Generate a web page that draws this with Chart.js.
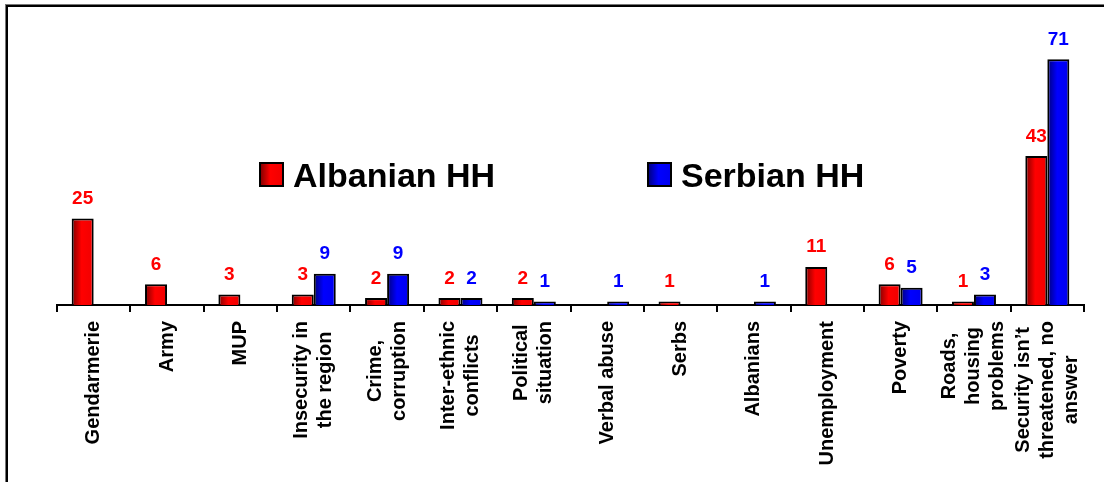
<!DOCTYPE html>
<html>
<head>
<meta charset="utf-8">
<script src="https://cdn.jsdelivr.net/npm/chart.js@4/dist/chart.umd.min.js"></script>
<style>
  html, body { margin: 0; padding: 0; background: #fff; overflow: hidden; }
  #wrap { position: relative; width: 1104px; height: 482px; overflow: hidden; }
  #frame { position: absolute; left: 6px; top: 5px; width: 1200px; height: 600px;
           border-left: 2px solid #000; border-top: 2px solid #000; box-shadow: -1px -1px 0 #777; }
  canvas { position: absolute; left: 0; top: 0; }
</style>
</head>
<body>
<div id="wrap">
  <div id="frame"></div>
  <canvas id="chart" width="1104" height="482"></canvas>
</div>
<script>
// categories and values
const categories = [
  'Gendarmerie', 'Army', 'MUP',
  ['Insecurity in', 'the region'],
  ['Crime,', 'corruption'],
  ['Inter-ethnic', 'conflicts'],
  ['Political', 'situation'],
  'Verbal abuse', 'Serbs', 'Albanians', 'Unemployment', 'Poverty',
  ['Roads,', 'housing', 'problems'],
  ['Security isn\u2019t', 'threatened, no', 'answer']
];
const albanianHH = [25, 6, 3, 3, 2, 2, 2, null, 1, null, 11, 6, 1, 43];
const serbianHH = [null, null, null, 9, 9, 2, 1, 1, null, 1, null, 5, 3, 71];

const FONT = 'Arial, "Liberation Sans", sans-serif';
const CAT_PCT = 0.6;
const TICK_LINE = 24; // 20px * 1.2

// shaded fills, dark on the left edge like the original
const shades = [
  ['#7e0000', '#ff0000', '#f00000'],
  ['#00007a', '#0000ff', '#0000ee']
];
function makeGradient(c, x0, x1, s) {
  const g = c.createLinearGradient(x0, 0, x1, 0);
  g.addColorStop(0, s[0]);
  g.addColorStop(0.45, s[1]);
  g.addColorStop(1, s[2]);
  return g;
}
function barFill(dsIndex) {
  return context => {
    const chart = context.chart;
    const xs = chart.scales.x;
    if (context.type !== 'data' || !xs || !xs.width) return shades[dsIndex][1];
    const centre = xs.getPixelForValue(context.dataIndex);
    const half = xs.width / categories.length * CAT_PCT / 2;
    const x0 = dsIndex === 0 ? centre - half : centre;
    return makeGradient(chart.ctx, x0, x0 + half, shades[dsIndex]);
  };
}

// rotated tick labels: centre the lines on each other and on the category
const centerTicks = {
  id: 'centerTicks',
  beforeDraw(chart) {
    const xs = chart.scales.x;
    const items = xs.getLabelItems();
    const c = chart.ctx;
    c.save();
    c.font = 'bold 20px ' + FONT;
    items.forEach(it => {
      if (it._centred) return;
      const lines = Array.isArray(it.label) ? it.label : [it.label];
      const maxW = Math.max(...lines.map(l => c.measureText(l).width));
      it.options.textAlign = 'center';
      it.options.translation[1] += maxW / 2;
      it.options.translation[0] -= (lines.length - 1) * TICK_LINE / 2;
      it._centred = true;
    });
    c.restore();
  }
};

// value labels above the bars
const valueLabels = {
  id: 'valueLabels',
  afterDatasetsDraw(chart) {
    const c = chart.ctx;
    c.save();
    c.font = 'bold 19px ' + FONT;
    c.textAlign = 'center';
    c.textBaseline = 'alphabetic';
    chart.data.datasets.forEach((ds, i) => {
      c.fillStyle = ds.labelColor;
      chart.getDatasetMeta(i).data.forEach((bar, j) => {
        const v = ds.data[j];
        if (v == null) return;
        c.fillText(String(v), bar.x, bar.y - 14.5);
      });
    });
    c.restore();
  }
};

// legend sitting inside the plot
const legendBox = {
  id: 'legendBox',
  afterDraw(chart) {
    const c = chart.ctx;
    const spots = [260, 648];
    c.save();
    c.font = 'bold 34px ' + FONT;
    c.textBaseline = 'alphabetic';
    c.textAlign = 'left';
    chart.data.datasets.forEach((ds, i) => {
      const x = spots[i], y = 163, s = 23;
      c.fillStyle = makeGradient(c, x, x + s, shades[i]);
      c.fillRect(x, y, s, s);
      c.lineWidth = 2;
      c.strokeStyle = '#000';
      c.strokeRect(x, y, s, s);
      c.fillStyle = '#000';
      c.fillText(ds.label, x + 33, 187);
    });
    c.restore();
  }
};

const ctx = document.getElementById('chart').getContext('2d');
new Chart(ctx, {
  type: 'bar',
  data: {
    labels: categories,
    datasets: [
      { label: 'Albanian HH', data: albanianHH, backgroundColor: barFill(0),
        borderColor: '#000', borderWidth: 2, labelColor: '#ff0000' },
      { label: 'Serbian HH', data: serbianHH, backgroundColor: barFill(1),
        borderColor: '#000', borderWidth: 2, labelColor: '#0000ff' }
    ]
  },
  options: {
    responsive: false,
    animation: false,
    layout: { padding: { left: 57, right: 20, top: 28, bottom: 0 } },
    datasets: { bar: { categoryPercentage: CAT_PCT, barPercentage: 1 } },
    plugins: { legend: { display: false }, tooltip: { enabled: false } },
    scales: {
      x: {
        grid: { offset: true, drawOnChartArea: false, color: '#000', lineWidth: 2, tickLength: 7 },
        border: { color: '#000', width: 2 },
        ticks: {
          color: '#000', autoSkip: false, minRotation: 90, maxRotation: 90, padding: 9,
          font: { family: FONT, size: 20, weight: 'bold', lineHeight: 1.2 }
        },
        afterFit: s => {
          s.height = 177;
          s.paddingLeft = 0;
          s.paddingRight = 0;
        }
      },
      y: { display: false, min: 0, max: 80 }
    }
  },
  plugins: [centerTicks, valueLabels, legendBox]
});
</script>
</body>
</html>
